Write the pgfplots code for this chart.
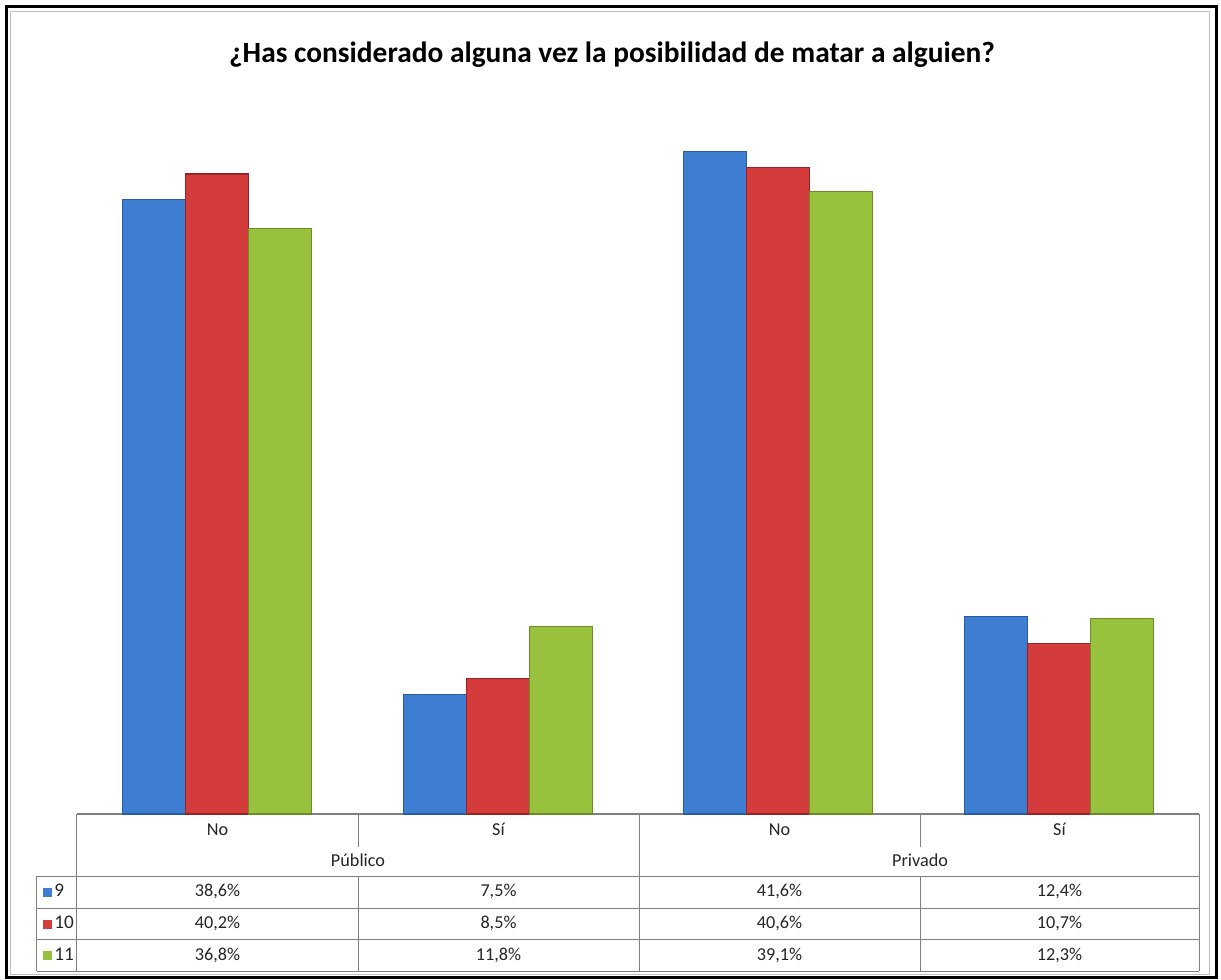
\documentclass[border=0pt]{standalone}
\usepackage{pgfplots}
\pgfplotsset{compat=1.18}
\usepackage{fontspec}
\setmainfont{Carlito}
\definecolor{cblue}{RGB}{62,126,210}
\definecolor{cbluedk}{RGB}{40,92,160}
\definecolor{cred}{RGB}{212,60,60}
\definecolor{creddk}{RGB}{150,36,36}
\definecolor{cgreen}{RGB}{152,194,62}
\definecolor{cgreendk}{RGB}{106,140,38}
\definecolor{tline}{RGB}{128,128,128}
\begin{document}
\begin{tikzpicture}
\begin{scope}[x=0.5pt,y=-0.5pt,shift={(-77,-814)}]
\path[use as bounding box] (0,0) rectangle (1221,980);
\fill[white] (0,0) rectangle (1221,980);
\draw[black!25,line width=0.5pt] (11,12) rectangle (1209,974);
\draw[black,line width=1.5pt] (7,7) rectangle (1216,977);
\node[anchor=base,inner sep=0pt,font=\fontsize{14.7pt}{17pt}\selectfont\bfseries] at (612,63) {¿Has considerado alguna vez la posibilidad de matar a alguien?};
% table lines
\begin{scope}[draw=tline,line width=0.5pt]
\draw (77,814) -- (1199,814);
\draw (37,876) -- (1199,876);
\draw (37,908) -- (1199,908);
\draw (37,939) -- (1199,939);
\draw (37,971) -- (1199,971);
\draw (37,876) -- (37,971);
\draw (77,814) -- (77,971);
\draw (639,814) -- (639,971);
\draw (1199,814) -- (1199,971);
\draw (358,814) -- (358,847);
\draw (920,814) -- (920,847);
\draw (358,876) -- (358,971);
\draw (920,876) -- (920,971);
\end{scope}
\begin{scope}[every node/.style={anchor=base,inner sep=0pt,font=\fontsize{9.1pt}{11pt}\selectfont,text=black!85}]
\node at (217.5,835) {No};
\node at (498.5,835) {Sí};
\node at (779.5,835) {No};
\node at (1059.5,835) {Sí};
\node at (358,866) {Público};
\node at (920,866) {Privado};
% row 9
\node at (217.5,897) {38,6\%};
\node at (498.5,897) {7,5\%};
\node at (779.5,897) {41,6\%};
\node at (1059.5,897) {12,4\%};
% row 10
\node at (217.5,928.5) {40,2\%};
\node at (498.5,928.5) {8,5\%};
\node at (779.5,928.5) {40,6\%};
\node at (1059.5,928.5) {10,7\%};
% row 11
\node at (217.5,960) {36,8\%};
\node at (498.5,960) {11,8\%};
\node at (779.5,960) {39,1\%};
\node at (1059.5,960) {12,3\%};
\node[anchor=base west,font=\fontsize{9.6pt}{11pt}\selectfont] at (54,897) {9};
\node[anchor=base west,font=\fontsize{9.6pt}{11pt}\selectfont] at (54,928.5) {10};
\node[anchor=base west,font=\fontsize{9.6pt}{11pt}\selectfont] at (54,960) {11};
\end{scope}
\fill[cblue] (43,888) rectangle (52,897);
\fill[cred] (43,919.5) rectangle (52,928.5);
\fill[cgreen] (43,951) rectangle (52,960);
\end{scope}
\begin{axis}[
  at={(0,0)}, anchor=south west,
  scale only axis,
  width=561pt, height=358.2pt,
  xmin=-0.5, xmax=3.5, ymin=0, ymax=45,
  axis lines=none,
  ybar, bar width=31.5pt,
  clip=false,
]
\addplot[bar shift=-31.5pt, draw=cbluedk, line width=0.6pt, fill=cblue] coordinates {(0,38.6) (1,7.5) (2,41.6) (3,12.4)};
\addplot[bar shift=0pt, draw=creddk, line width=0.6pt, fill=cred] coordinates {(0,40.2) (1,8.5) (2,40.6) (3,10.7)};
\addplot[bar shift=31.5pt, draw=cgreendk, line width=0.6pt, fill=cgreen] coordinates {(0,36.8) (1,11.8) (2,39.1) (3,12.3)};
\end{axis}
\end{tikzpicture}
\end{document}
